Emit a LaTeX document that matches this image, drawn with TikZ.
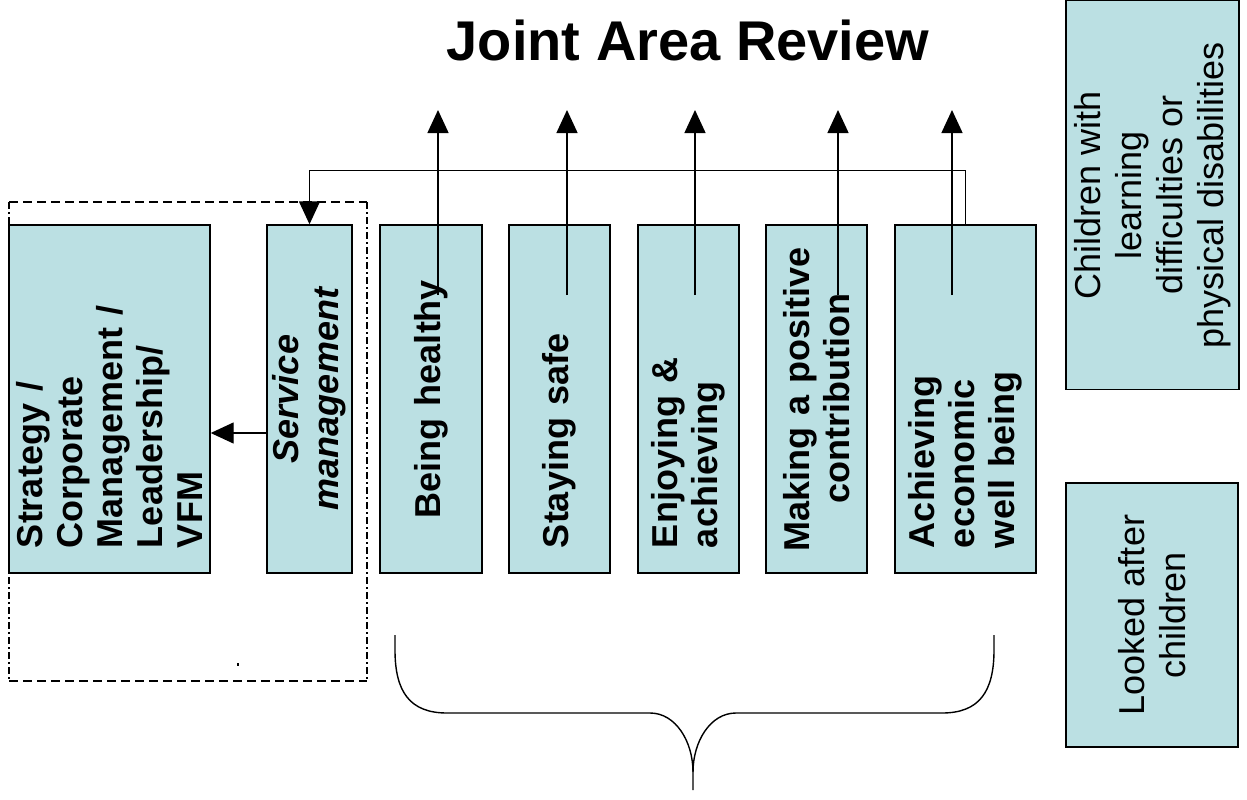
\documentclass[tikz,border=0pt]{standalone}
\usepackage{fontspec}
\setmainfont{Liberation Sans}
\usetikzlibrary{arrows.meta,positioning}
\definecolor{boxfill}{RGB}{187,224,227}

\tikzset{
  theme/.style={draw, line width=1.4pt, fill=boxfill, rotate=90, inner ysep=2pt},
  themeleft/.style={theme, inner xsep=25pt, text width=298pt, align=left,
    font=\fontsize{36}{40}\selectfont\bfseries},
  themecentre/.style={theme, inner xsep=10pt, text width=328pt, align=center,
    font=\fontsize{36}{40}\selectfont\bfseries},
  cohort/.style={theme, inner xsep=10pt, align=center,
    font=\fontsize{36}{41}\selectfont},
  arr/.style={line width=1.4pt, -{Triangle[width=21pt,length=23pt]}}
}

\begin{document}
\begin{tikzpicture}[x=1pt,y=-1pt]
    \useasboundingbox (0,0) rectangle (1247,800);

    % titel
    \node[anchor=base, font=\fontsize{56}{60}\selectfont\bfseries] (ttl) at (688,61) {Joint Area Review};

    % gestrichelter Rahmen um Leitung
    \draw[line width=1.4pt, dash pattern=on 9pt off 5pt] (9,681) -- (367,681);
    \draw[line width=1.4pt, dash pattern=on 9pt off 5pt] (9,202) -- (367,202);
    \draw[line width=1.4pt, dash pattern=on 7pt off 3pt on 2pt off 3pt] (9,202) -- (9,681);
    \draw[line width=1.4pt, dash pattern=on 7pt off 3pt on 2pt off 3pt] (367,202) -- (367,681);
    \fill (237,663) rectangle (239,666);

    % Kaesten
    \node[themeleft, minimum height=201pt] (strat) at (109.5,399)
      {Strategy /\\ Corporate\\ Management /\\ Leadership/\\ VFM};
    \node[themecentre, minimum height=85pt] (serv) at (309.5,399)
      {\itshape Service\\ \itshape management};
    \node[themecentre, minimum height=102pt] (healthy) at (431,399) {Being healthy};
    \node[themeleft, minimum height=101pt] (safe) at (559.5,399) {Staying safe};
    \node[themeleft, minimum height=101pt] (enjoy) at (688.5,399) {Enjoying \&\\ achieving};
    \node[themecentre, minimum height=101pt] (contrib) at (816.5,399) {Making a positive\\ contribution};
    \node[themeleft, minimum height=141pt] (econ) at (965.5,399) {Achieving\\ economic\\ well being};

    \node[cohort, minimum width=389pt, minimum height=173pt] (lda) at (1152.5,195)
      {Children with\\ learning\\ difficulties or\\ physical disabilities};
    \node[cohort, minimum width=264pt, minimum height=172pt] (lac) at (1152,615)
      {Looked after\\ children};

    % Pfeile nach oben
    \foreach \n/\x in {1/438,2/567,3/695,4/838,5/952}{
      \coordinate (lo\n) at (\x,295);
      \coordinate (hi\n) at (\x,110);
      \draw[arr] (lo\n) -- (hi\n);
    }

    % Rueckkopplung
    \draw[arr] (econ.east) -- ++(0,-54) -| (serv.east);
    \draw[arr] (serv.north |- 0,433) -- (strat.south |- 0,433);

    % Klammer unten
    \coordinate (brl) at (395,635);
    \coordinate (brr) at (994,635);
    \coordinate (brtip) at (693,790);
    \draw[line width=1.4pt] (brl) -- (395,650) .. controls (395,692) and (410,713) .. (447,713)
      -- (650,713) .. controls (676,713) and (693,742) .. (693,772) -- (brtip);
    \draw[line width=1.4pt] (brr) -- (994,650) .. controls (994,692) and (979,713) .. (942,713)
      -- (736,713) .. controls (710,713) and (693,742) .. (693,772);
\end{tikzpicture}
\end{document}
